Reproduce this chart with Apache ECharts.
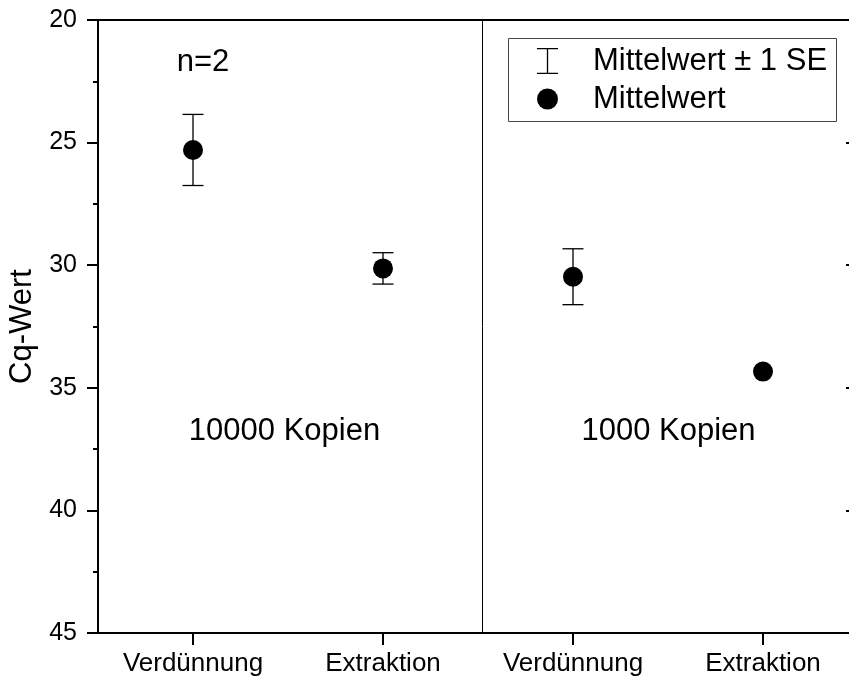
<!DOCTYPE html>
<html>
<head>
<meta charset="utf-8">
<script src="https://cdn.jsdelivr.net/npm/echarts@6/dist/echarts.min.js"></script>
<style>
html,body{margin:0;padding:0;background:#fff;}
#chart{width:849px;height:680px;}
</style>
</head>
<body>
<div id="chart"></div>
<script>
// ---- data ----
const categories = ['Verdünnung', 'Extraktion', 'Verdünnung', 'Extraktion'];
const positions = [1, 2, 3, 4];
const means = [25.3, 30.13, 30.47, 34.34];
const standardErrors = [1.45, 0.64, 1.14, 0];
const groupLabels = ['10000 Kopien', '1000 Kopien'];
const dividerAt = [2.52];
const sampleNote = 'n=2';
const yMin = 20, yMax = 45, yStep = 5;
const legendNames = ['Mittelwert ± 1 SE', 'Mittelwert'];

// ---- build ----
const FONT = 'Liberation Sans, Arial, Helvetica, sans-serif';
const meanData = positions.map((p, i) => [p, means[i]]);
const errData = positions.map((p, i) => [p, means[i] - standardErrors[i], means[i] + standardErrors[i]]);

const chart = echarts.init(document.getElementById('chart'), null, {renderer: 'canvas'});
const axisLine = {show: true, lineStyle: {color: '#000', width: 2}};

const option = {
  backgroundColor: '#fff',
  animation: false,
  grid: {left: 98, top: 20, width: 760, height: 613, containLabel: false, outerBoundsMode: 'none'},
  xAxis: [{
    type: 'value', min: 0.5, max: 4.5, position: 'bottom',
    axisLine: axisLine,
    splitLine: {show: false},
    axisTick: {show: true, customValues: positions, length: 12, inside: false, lineStyle: {color: '#000', width: 2}},
    axisLabel: {
      show: true, customValues: positions, margin: 18,
      formatter: v => categories[positions.indexOf(v)] || '',
      fontFamily: FONT, fontSize: 26, color: '#000'
    }
  }, {
    type: 'value', min: 0.5, max: 4.5, position: 'top',
    axisLine: axisLine, axisTick: {show: false}, axisLabel: {show: false}, splitLine: {show: false}
  }],
  yAxis: [{
    type: 'value', inverse: true, min: yMin, max: yMax, interval: yStep, position: 'left',
    name: 'Cq-Wert', nameLocation: 'middle', nameGap: 58,
    nameTextStyle: {fontFamily: FONT, fontSize: 31, color: '#000'},
    axisLine: axisLine,
    axisTick: {show: true, length: 11, inside: false, lineStyle: {color: '#000', width: 2}},
    minorTick: {show: true, splitNumber: 2, length: 5, lineStyle: {color: '#000', width: 2}},
    axisLabel: {margin: 21, fontFamily: FONT, fontSize: 25, color: '#000'},
    splitLine: {show: false}
  }, {
    type: 'value', inverse: true, min: yMin, max: yMax, interval: yStep, position: 'right',
    axisLine: axisLine,
    axisTick: {show: true, length: 12, inside: true, lineStyle: {color: '#000', width: 2}},
    axisLabel: {show: false}, splitLine: {show: false}
  }],
  legend: [{
    left: 537, top: 45, padding: 0, orient: 'vertical', selectedMode: false,
    itemWidth: 21, itemHeight: 26,
    textStyle: {fontFamily: FONT, fontSize: 31, color: '#000', lineHeight: 32, padding: [0, 0, 0, 30]},
    data: [{name: legendNames[0], icon: 'path://M0,0H21V1.3H0Z M9.85,1.3H11.15V24.7H9.85Z M0,24.7H21V26H0Z'}]
  }, {
    left: 537, top: 83, padding: 0, orient: 'vertical', selectedMode: false,
    itemWidth: 21, itemHeight: 21,
    textStyle: {fontFamily: FONT, fontSize: 31, color: '#000', lineHeight: 32, padding: [0, 0, 0, 30]},
    data: [{name: legendNames[1], icon: 'circle'}]
  }],
  graphic: [
    {type: 'rect', left: 508, top: 38, shape: {width: 328, height: 83},
     style: {fill: 'rgba(0,0,0,0)', stroke: '#444', lineWidth: 1}, z: 1},
    {type: 'text', x: 203, y: 62, style: {text: sampleNote, font: '31px ' + FONT, fill: '#000', align: 'center', verticalAlign: 'middle'}},
    {type: 'text', x: 284.5, y: 431, style: {text: groupLabels[0], font: '31px ' + FONT, fill: '#000', align: 'center', verticalAlign: 'middle'}},
    {type: 'text', x: 668.5, y: 431, style: {text: groupLabels[1], font: '31px ' + FONT, fill: '#000', align: 'center', verticalAlign: 'middle'}}
  ],
  series: [{
    name: legendNames[0], type: 'custom', xAxisIndex: 0, yAxisIndex: 0,
    itemStyle: {color: '#000', opacity: 1},
    data: errData, z: 2,
    renderItem: function (params, api) {
      const x = api.value(0), lo = api.value(1), hi = api.value(2);
      if (hi - lo <= 0) return null;
      const a = api.coord([x, lo]), b = api.coord([x, hi]);
      const hw = 10.5;
      const st = {stroke: '#000', lineWidth: 1.3};
      return {type: 'group', children: [
        {type: 'line', shape: {x1: a[0], y1: a[1], x2: b[0], y2: b[1]}, style: st},
        {type: 'line', shape: {x1: a[0] - hw, y1: a[1], x2: a[0] + hw, y2: a[1]}, style: st},
        {type: 'line', shape: {x1: b[0] - hw, y1: b[1], x2: b[0] + hw, y2: b[1]}, style: st}
      ]};
    }
  }, {
    name: legendNames[1], type: 'scatter', xAxisIndex: 0, yAxisIndex: 0,
    symbol: 'circle', symbolSize: 20, itemStyle: {color: '#000', opacity: 1},
    data: meanData, z: 3,
    markLine: {
      silent: true, symbol: ['none', 'none'], label: {show: false},
      lineStyle: {color: '#000', width: 1, type: 'solid'},
      data: dividerAt.map(v => ({xAxis: v}))
    }
  }]
};
chart.setOption(option);
</script>
</body>
</html>
